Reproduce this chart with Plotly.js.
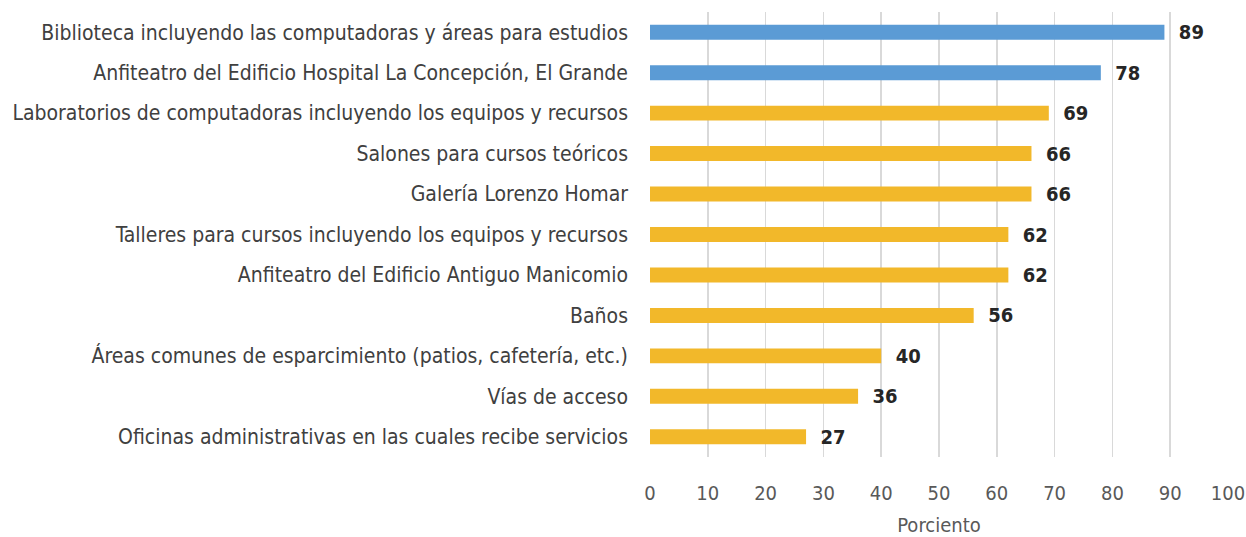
<!DOCTYPE html>
<html>
<head>
<meta charset="utf-8">
<script src="https://cdn.plot.ly/plotly-3.0.1.min.js"></script>
<style>html,body{margin:0;padding:0;background:#fff;}#chart{width:1246px;height:537px;}</style>
</head>
<body>
<div id="chart"></div>
<script>
const categories = [
  "Biblioteca incluyendo las computadoras y áreas para estudios",
  "Anfiteatro del Edificio Hospital La Concepción, El Grande",
  "Laboratorios de computadoras incluyendo los equipos y recursos",
  "Salones para cursos teóricos",
  "Galería Lorenzo Homar",
  "Talleres para cursos incluyendo los equipos y recursos",
  "Anfiteatro del Edificio Antiguo Manicomio",
  "Baños",
  "Áreas comunes de esparcimiento (patios, cafetería, etc.)",
  "Vías de acceso",
  "Oficinas administrativas en las cuales recibe servicios"
];
const values = [89, 78, 69, 66, 66, 62, 62, 56, 40, 36, 27];
const highlighted = [true, true, false, false, false, false, false, false, false, false, false];
const xTicks = [0, 10, 20, 30, 40, 50, 60, 70, 80, 90, 100];

const BLUE = "#5B9BD5", GOLD = "#F2B82A";
const FONT = "'Liberation Sans Narrow', 'Arial Narrow', 'DejaVu Sans Condensed', sans-serif";

const trace = {
  type: "bar",
  orientation: "h",
  x: values,
  y: categories,
  marker: { color: highlighted.map(h => h ? BLUE : GOLD) },
  text: values.map(v => "\u00a0\u00a0<b>" + v + "</b>"),
  textposition: "outside",
  constraintext: "none",
  textfont: { family: FONT, size: 20, color: "#262626" },
  cliponaxis: false,
  hoverinfo: "x+y"
};

const layout = {
  width: 1246, height: 537,
  margin: { l: 650, r: 18, t: 12, b: 80 },
  paper_bgcolor: "#fff", plot_bgcolor: "#fff",
  bargap: 0.63,
  showlegend: false,
  font: { family: FONT, size: 20, color: "#404040" },
  xaxis: {
    range: [0, 100],
    tickvals: xTicks,
    showgrid: true, gridcolor: "#D9D9D9", gridwidth: 1.5,
    zeroline: false,
    showline: false,
    ticks: "",
    tickfont: { family: FONT, size: 20, color: "#595959" },
    ticklabelstandoff: 22,
    title: { text: "Porciento", font: { family: FONT, size: 20, color: "#595959" }, standoff: 14 },
    automargin: false,
    fixedrange: true
  },
  yaxis: {
    autorange: "reversed",
    showgrid: false, zeroline: false, showline: false, ticks: "",
    tickfont: { family: FONT, size: 21, color: "#404040" },
    ticklabelstandoff: 21,
    automargin: false,
    fixedrange: true
  }
};

Plotly.newPlot("chart", [trace], layout, { displayModeBar: false, staticPlot: true });
</script>
</body>
</html>
